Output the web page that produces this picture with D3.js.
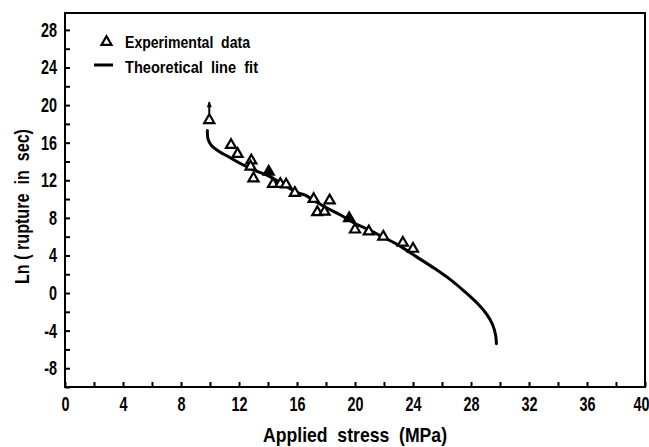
<!DOCTYPE html>
<html>
<head>
<meta charset="utf-8">
<script src="https://cdn.jsdelivr.net/npm/d3@7"></script>
<style>
  body { margin: 0; background: #fff; }
  svg { display: block; }
  text { font-family: "Liberation Sans", "DejaVu Sans Condensed", sans-serif; font-weight: bold; fill: #000; }
</style>
</head>
<body>
<div id="chart"></div>
<script>
// values
const xTicks = d3.range(0, 41, 2);      // labels every 4
const yTicks = d3.range(-10, 29, 2);    // labels every 4

// experimental points [stress, ln(rupture)]
const openPoints = [
  [9.95, 18.4], [11.45, 15.75], [11.9, 14.8], [12.85, 14.1], [12.8, 13.45],
  [13.0, 12.2], [14.35, 11.6], [14.85, 11.6], [15.25, 11.55], [15.85, 10.65],
  [17.15, 10.0], [18.25, 9.85], [17.4, 8.6], [17.9, 8.65], [20.0, 6.75],
  [20.95, 6.55], [21.95, 6.0], [23.3, 5.35], [24.0, 4.7]
];
const filledPoints = [[14.05, 12.9], [19.6, 7.95]];

// run-out arrow above the first point
const arrowFrom = [9.95, 19.1];
const arrowTo = [9.95, 20.3];

// theoretical line fit
const fitLine = [
  [9.82, 17.3], [9.86, 16.4], [10.1, 15.7], [10.6, 15.1], [11.4, 14.4],
  [12.2, 13.7], [13.0, 13.1], [14.0, 12.5], [15.0, 11.6], [16.0, 10.7],
  [16.6, 10.4], [17.1, 9.9], [18.0, 9.1], [19.0, 8.3], [20.0, 7.4],
  [21.0, 6.7], [22.0, 5.9], [23.0, 5.1], [24.2, 3.9], [25.5, 2.6],
  [26.6, 1.4], [27.6, 0.1], [28.5, -1.2], [29.1, -2.3], [29.5, -3.4],
  [29.7, -4.5], [29.75, -5.4]
];

const width = 649;
const height = 447;
const margin = { top: 13, right: 4, bottom: 60, left: 65 };
const squeeze = 0.72; // the print font is a narrow one

const svg = d3.select('#chart')
  .append('svg')
  .attr('width', width)
  .attr('height', height);

const x = d3.scaleLinear()
  .domain([0, 40])
  .range([margin.left, width - margin.right]);

const y = d3.scaleLinear()
  .domain([-10, 29.8])
  .range([height - margin.bottom, margin.top]);

// frame
svg.append('rect')
  .attr('x', x(0))
  .attr('y', y(29.8))
  .attr('width', x(40) - x(0))
  .attr('height', y(-10) - y(29.8))
  .attr('fill', 'none')
  .attr('stroke', '#000')
  .attr('stroke-width', 2);

function xAxis(g) {
  g.attr('transform', `translate(0, ${y(-10)})`)
    .call(d3.axisBottom(x)
      .tickValues(xTicks)
      .tickSizeInner(-5)
      .tickSizeOuter(0)
      .tickPadding(10)
      .tickFormat(d => d % 4 === 0 ? String(d) : ''))
    .attr('font-size', 20)
  g.select('.domain').remove()
  g.selectAll('line').attr('stroke-width', 2)
  g.selectAll('text')
    .attr('x', d => d === 40 ? -4 / squeeze : 0)
    .attr('transform', `scale(${squeeze},1)`)
}

function yAxis(g) {
  g.attr('transform', `translate(${x(0)}, 0)`)
    .call(d3.axisLeft(y)
      .tickValues(yTicks)
      .tickSizeInner(-5)
      .tickSizeOuter(0)
      .tickFormat(d => d % 4 === 0 ? String(d) : ''))
    .attr('font-size', 20)
  g.select('.domain').remove()
  g.selectAll('line').attr('stroke-width', 2)
  g.selectAll('text')
    .attr('x', -8 / squeeze)
    .attr('transform', `scale(${squeeze},1)`)
}

svg.append('g').call(xAxis)
svg.append('g').call(yAxis)
svg.selectAll('.tick text').attr('font-family', null).attr('fill', '#000')

// fit line
const line = d3.line()
  .x(d => x(d[0]))
  .y(d => y(d[1]))
  .curve(d3.curveCatmullRom);

svg.append('path')
  .datum(fitLine)
  .attr('d', line)
  .attr('fill', 'none')
  .attr('stroke', '#000')
  .attr('stroke-width', 3)
  .attr('stroke-linecap', 'round');

// arrow
svg.append('line')
  .attr('x1', x(arrowFrom[0])).attr('y1', y(arrowFrom[1]))
  .attr('x2', x(arrowTo[0])).attr('y2', y(arrowTo[1]))
  .attr('stroke', '#000').attr('stroke-width', 2);
svg.append('path')
  .attr('d', `M${x(arrowTo[0]) - 2.5},${y(arrowTo[1]) + 5}L${x(arrowTo[0])},${y(arrowTo[1]) - 1}L${x(arrowTo[0]) + 2.5},${y(arrowTo[1]) + 5}Z`)
  .attr('fill', '#000');

// triangles
const tri = d3.symbol().type(d3.symbolTriangle).size(44);

svg.append('g')
  .selectAll('path')
  .data(openPoints)
  .join('path')
  .attr('transform', d => `translate(${x(d[0])}, ${y(d[1])})`)
  .attr('d', tri)
  .attr('fill', '#fff')
  .attr('stroke', '#000')
  .attr('stroke-width', 2.2);

svg.append('g')
  .selectAll('path')
  .data(filledPoints)
  .join('path')
  .attr('transform', d => `translate(${x(d[0])}, ${y(d[1])})`)
  .attr('d', tri)
  .attr('fill', '#000')
  .attr('stroke', '#000')
  .attr('stroke-width', 2.2);

// legend
svg.append('path')
  .attr('transform', 'translate(106.5, 42)')
  .attr('d', tri)
  .attr('fill', '#fff')
  .attr('stroke', '#000')
  .attr('stroke-width', 2.2);
svg.append('text')
  .attr('x', 125).attr('y', 47.5)
  .attr('font-size', 17)
  .attr('textLength', 125)
  .attr('lengthAdjust', 'spacingAndGlyphs')
  .style('white-space', 'pre')
  .text('Experimental  data');
svg.append('line')
  .attr('x1', 94).attr('x2', 113)
  .attr('y1', 65).attr('y2', 65)
  .attr('stroke', '#000').attr('stroke-width', 3);
svg.append('text')
  .attr('x', 125).attr('y', 72.5)
  .attr('font-size', 17)
  .attr('textLength', 133)
  .attr('lengthAdjust', 'spacingAndGlyphs')
  .style('white-space', 'pre')
  .text('Theoretical  line  fit');

// axis titles
svg.append('text')
  .attr('x', 263).attr('y', 441.5)
  .attr('font-size', 21)
  .attr('textLength', 184)
  .attr('lengthAdjust', 'spacingAndGlyphs')
  .style('white-space', 'pre')
  .text('Applied  stress  (MPa)');

svg.append('text')
  .attr('transform', 'translate(29, 284) rotate(-90)')
  .attr('font-size', 21)
  .attr('textLength', 155)
  .attr('lengthAdjust', 'spacingAndGlyphs')
  .style('white-space', 'pre')
  .text('Ln ( rupture  in  sec)');
</script>
</body>
</html>
